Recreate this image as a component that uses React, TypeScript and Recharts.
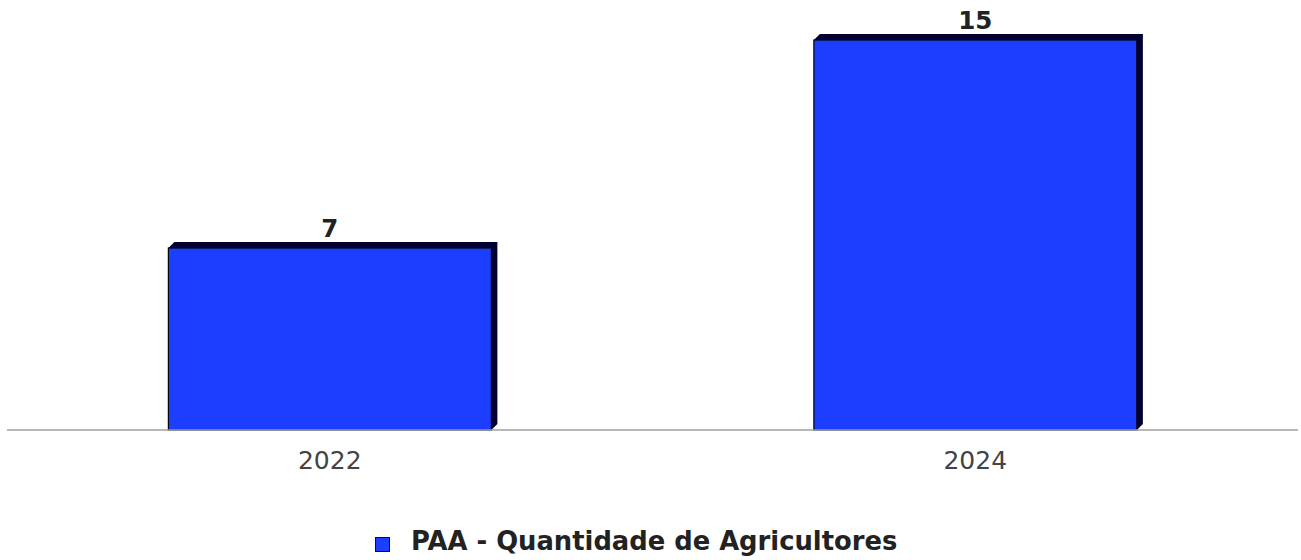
import { BarChart, Bar, XAxis, YAxis, Legend, LabelList } from 'recharts';

const years = ['2022', '2024'];
const farmers = [7, 15];
const seriesName = 'PAA - Quantidade de Agricultores';

const FRONT = '#1c3fff';
const DEPTH = '#000033';
const FONT = "'DejaVu Sans', sans-serif";

const data = years.map((year, i) => ({ year, value: farmers[i] }));

function Bar3D(props: any) {
	const { x, y, width, height } = props;
	const d = 6;
	const pts = [
		[x, y],
		[x + d, y - d],
		[x + width + d, y - d],
		[x + width + d, y + height - d],
		[x + width, y + height],
	]
		.map((p) => p.join(','))
		.join(' ');
	return (
		<g>
			<polygon points={pts} fill={DEPTH} />
			<rect x={x} y={y} width={width} height={height} fill={FRONT} stroke='#000' strokeWidth={1.2} />
		</g>
	);
}

function LegendContent() {
	return (
		<div style={{ height: 34, display: 'flex', alignItems: 'center', paddingLeft: 375, fontFamily: FONT }}>
			<span
				style={{
					display: 'inline-block',
					width: 13,
					height: 13,
					background: FRONT,
					border: '1.5px solid #111',
					marginRight: 21,
					position: 'relative',
					top: 3,
				}}
			/>
			<span style={{ fontSize: 25.8, fontWeight: 'bold', color: '#222' }}>{seriesName}</span>
		</div>
	);
}

export default function App() {
	return (
		<div style={{ width: 1301, height: 560, background: '#fff' }}>
			<style>{'body{margin:0}'}</style>
			<BarChart
				width={1301}
				height={560}
				data={data}
				barCategoryGap='25%'
				margin={{ top: 40, right: 3, left: 7, bottom: 0 }}>
				<XAxis
					dataKey='year'
					height={96}
					tickSize={0}
					tickMargin={21}
					axisLine={{ stroke: '#a0a0a0', strokeWidth: 1.5 }}
					tick={{ fontSize: 25, fill: '#444', fontFamily: FONT }}
				/>
				<YAxis hide domain={[0, 'dataMax']} />
				<Legend verticalAlign='bottom' wrapperStyle={{ bottom: 2, left: 0, width: 1301 }} content={LegendContent} />
				<Bar dataKey='value' name={seriesName} shape={Bar3D} isAnimationActive={false}>
					<LabelList
						dataKey='value'
						position='top'
						offset={11}
						style={{ fontSize: 24.5, fontWeight: 'bold', fill: '#222', fontFamily: FONT }}
					/>
				</Bar>
			</BarChart>
		</div>
	);
}
